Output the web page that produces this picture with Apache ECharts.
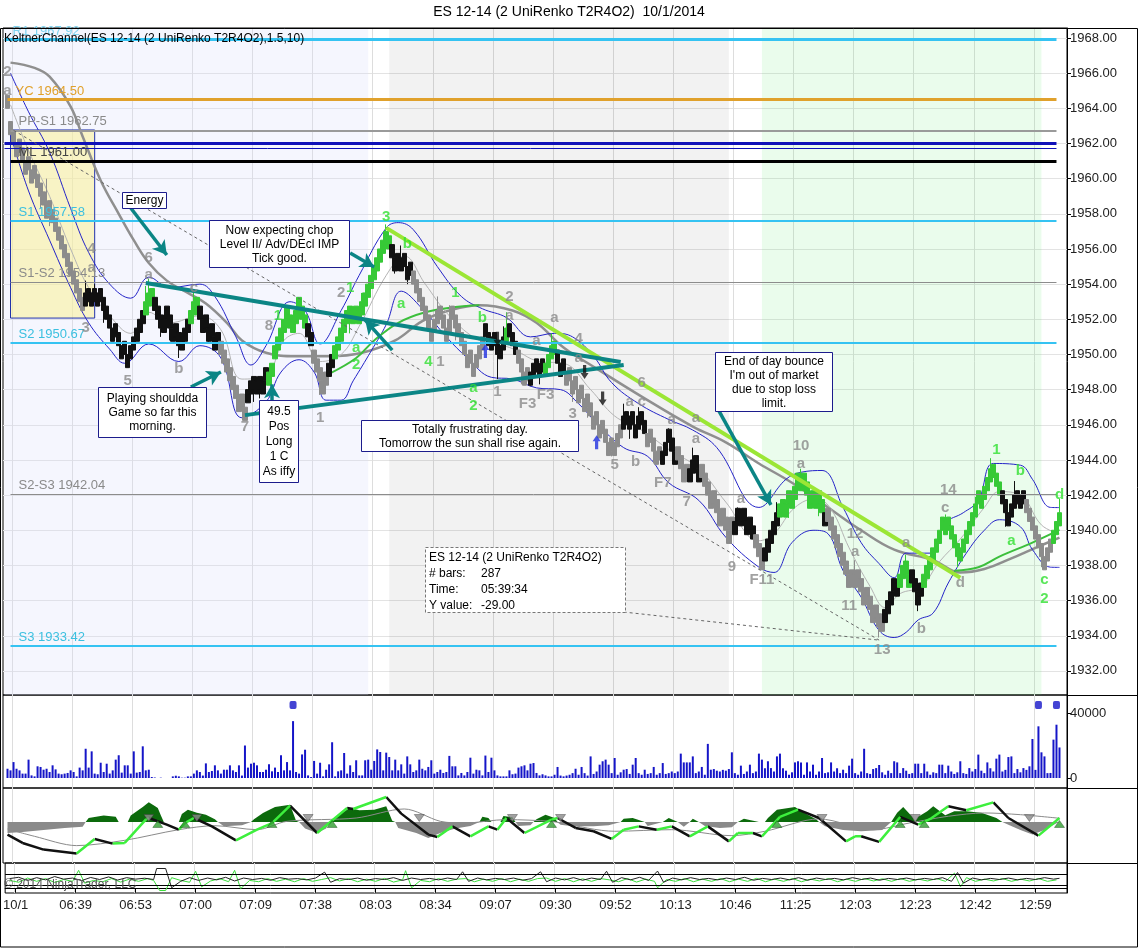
<!DOCTYPE html>
<html>
<head>
<meta charset="utf-8">
<title>ES 12-14 (2 UniRenko T2R4O2) 10/1/2014</title>
<script src="https://cdn.jsdelivr.net/npm/echarts@6.0.0/dist/echarts.min.js"></script>
<style>
  html, body { margin: 0; padding: 0; background: #fff; }
  #chart { width: 1138px; height: 948px; }
</style>
</head>
<body>
<div id="chart"></div>
<script>
// ---------- values ----------
const timeLabels = ['10/1', '06:39', '06:53', '07:00', '07:09', '07:38', '08:03', '08:34', '09:07',
  '09:30', '09:52', '10:13', '10:46', '11:25', '12:03', '12:23', '12:42', '12:59'];

const priceTicks = [1932, 1934, 1936, 1938, 1940, 1942, 1944, 1946, 1948, 1950,
  1952, 1954, 1956, 1958, 1960, 1962, 1964, 1966, 1968];
const volumeTicks = [0, 40000];

// brick closes, 20 bars per x-axis label step
const closes = [
  null, 1964.0, 1962.5, 1962.0, 1962.0, 1961.5, 1961.0, 1961.0, 1960.5, 1960.5, 1960.0, 1959.5, 1959.0, 1958.5, 1958.5, 1958.0, 1957.5, 1957.0, 1956.5, 1956.0,
  1955.5, 1955.0, 1954.5, 1954.0, 1953.5, 1953.0, 1952.5, 1953.5, 1953.0, 1953.5, 1953.0, 1953.5, 1953.0, 1952.5, 1952.0, 1951.5, 1951.5, 1951.0, 1950.5, 1950.5,
  1950.0, 1950.0, 1950.5, 1951.0, 1951.5, 1952.0, 1952.5, 1953.0, 1953.5, 1953.0, 1952.5, 1952.0, 1951.5, 1952.0, 1952.0, 1951.5, 1951.5, 1951.0, 1950.5, 1951.0,
  1951.5, 1952.0, 1952.5, 1953.0, 1952.5, 1952.0, 1952.0, 1951.5, 1951.5, 1951.0, 1951.0, 1950.5, 1950.0, 1949.5, 1949.0, 1948.5, 1948.0, 1947.5, 1947.5, 1947.0,
  1947.0, 1948.0, 1948.5, 1948.0, 1948.5, 1948.0, 1948.5, 1948.5, 1949.0, 1949.5, 1950.5, 1951.0, 1951.5, 1952.0, 1952.0, 1951.5, 1952.0, 1952.5, 1952.5, 1952.0,
  1951.5, 1951.0, 1950.5, 1949.5, 1949.0, 1948.5, 1948.5, 1949.0, 1949.5, 1950.0, 1950.5, 1951.0, 1951.5, 1952.0, 1952.5, 1952.0, 1952.5, 1952.0, 1952.5, 1953.0,
  1953.5, 1954.0, 1954.5, 1955.0, 1955.5, 1956.0, 1956.5, 1957.0, 1956.0, 1955.5, 1955.5, 1955.0, 1955.5, 1955.0, 1955.0, 1954.5, 1954.0, 1953.5, 1953.0, 1952.5,
  1952.0, 1951.5, 1951.5, 1952.0, 1952.5, 1952.0, 1951.5, 1951.5, 1952.0, 1952.0, 1951.5, 1951.0, 1950.5, 1950.0, 1950.0, 1949.5, 1949.5, 1950.0, 1950.5, 1951.0,
  1951.0, 1950.5, 1951.0, 1950.5, 1950.0, 1950.5, 1951.0, 1951.5, 1951.0, 1950.5, 1950.0, 1949.5, 1949.0, 1949.0, 1948.5, 1949.0, 1949.5, 1949.0, 1949.5, 1949.0,
  1949.5, 1950.0, 1950.5, 1950.0, 1949.5, 1949.5, 1949.0, 1949.0, 1948.5, 1948.5, 1948.0, 1948.0, 1947.5, 1947.5, 1947.0, 1946.5, 1946.5, 1946.0, 1946.0, 1945.5,
  1945.0, 1945.0, 1944.5, 1945.0, 1945.5, 1946.0, 1946.5, 1946.0, 1946.5, 1946.0, 1946.0, 1946.5, 1946.0, 1945.5, 1945.5, 1945.0, 1944.5, 1944.5, 1944.0, 1944.5,
  1945.0, 1945.0, 1944.5, 1944.5, 1944.0, 1943.5, 1943.5, 1943.0, 1943.5, 1944.0, 1943.5, 1943.5, 1943.0, 1942.5, 1942.0, 1942.0, 1941.5, 1941.0, 1941.0, 1940.5,
  1940.0, 1940.0, 1940.0, 1940.5, 1940.5, 1941.0, 1940.5, 1940.5, 1940.0, 1939.5, 1939.0, 1938.5, 1938.5, 1939.0, 1939.5, 1940.0, 1940.5, 1941.0, 1941.5, 1941.0,
  1941.5, 1941.5, 1942.0, 1942.5, 1942.5, 1943.0, 1942.5, 1942.0, 1942.0, 1941.5, 1942.0, 1941.5, 1941.0, 1941.0, 1940.5, 1940.0, 1939.5, 1939.0, 1938.5, 1938.0,
  1937.5, 1937.5, 1937.0, 1937.5, 1937.0, 1936.5, 1936.5, 1936.0, 1935.5, 1935.5, 1935.0, 1934.5, 1935.0, 1935.5, 1936.0, 1936.5, 1936.5, 1937.0, 1937.5, 1938.0,
  1937.5, 1937.5, 1937.0, 1936.5, 1936.5, 1937.0, 1937.5, 1938.0, 1938.5, 1939.0, 1939.5, 1940.0, 1940.0, 1940.5, 1940.0, 1939.5, 1939.0, 1938.5, 1939.0, 1939.5,
  1940.0, 1940.5, 1941.0, 1941.5, 1941.5, 1942.0, 1942.5, 1943.0, 1943.5, 1943.0, 1942.5, 1942.0, 1941.5, 1941.0, 1941.0, 1941.5, 1942.0, 1941.5, 1942.0, 1941.5,
  1941.0, 1940.5, 1940.0, 1939.5, 1939.0, 1938.5, 1938.5, 1939.0, 1939.5, 1940.0, 1940.5, 1941.0, null, null
];

// brick colour runs: s = gray, k = black, g = green
const toneRuns = [
  ['s', 20],
  ['s', 7], ['k', 13],
  ['k', 7], ['g', 3], ['k', 10],
  ['k', 2], ['g', 3], ['k', 7], ['s', 8],
  ['s', 1], ['k', 7], ['g', 12],
  ['g', 1], ['k', 2], ['s', 5], ['k', 2], ['g', 10],
  ['g', 9], ['k', 7], ['s', 4],
  ['s', 20],
  ['k', 7], ['g', 1], ['k', 3], ['s', 4], ['k', 5],
  ['g', 4], ['k', 3], ['s', 13],
  ['s', 6], ['k', 8], ['s', 5], ['k', 1],
  ['k', 4], ['s', 4], ['k', 4], ['s', 8],
  ['s', 3], ['k', 7], ['s', 3], ['k', 5], ['g', 2],
  ['g', 13], ['k', 1], ['s', 6],
  ['s', 13], ['k', 5], ['g', 2],
  ['g', 2], ['k', 4], ['g', 14],
  ['g', 12], ['k', 8],
  ['s', 9], ['g', 3], ['s', 2]
];

// [bar, wick extreme]
const wicks = [
  [1, 1964.6], [2, 1963.0], [12, 1958.3], [14, 1960.0], [15, 1957.3], [27, 1954.2], [30, 1954.0],
  [33, 1951.8], [36, 1950.8], [41, 1949.3], [47, 1953.9], [48, 1954.3], [52, 1951.0], [55, 1950.8],
  [58, 1949.8], [63, 1953.7], [68, 1950.7], [70, 1950.3], [80, 1946.7], [83, 1947.3], [85, 1947.5],
  [94, 1952.7], [98, 1953.2], [105, 1947.7], [115, 1951.2], [119, 1953.5], [127, 1957.4], [130, 1954.6],
  [132, 1956.2], [134, 1954.0], [144, 1953.3], [148, 1952.8], [150, 1950.8], [156, 1948.9], [164, 1948.6],
  [166, 1951.6], [167, 1952.4], [172, 1948.3], [175, 1948.2], [178, 1948.3], [182, 1951.2], [189, 1947.3],
  [194, 1946.4], [202, 1944.2], [206, 1947.2], [208, 1945.2], [211, 1947.0], [216, 1943.8], [221, 1945.8],
  [223, 1943.9], [229, 1944.7], [231, 1942.9], [241, 1939.4], [244, 1941.3], [247, 1939.9], [252, 1938.1],
  [257, 1941.6], [261, 1940.7], [265, 1943.5], [268, 1942.7], [271, 1940.8], [283, 1938.3], [286, 1935.8],
  [291, 1933.9], [300, 1938.6], [304, 1935.4], [313, 1940.9], [317, 1937.9], [323, 1941.9], [328, 1944.1],
  [333, 1940.2], [336, 1942.8], [345, 1937.9], [351, 1941.8]
];

const volumes = [
  0, 5700, 4700, 9800, 5700, 4700, 2700, 2700, 11300, 1600, 1000, 7200, 6800, 5100, 5700, 3700, 7800, 5300, 2700, 2300,
  2700, 3100, 4700, 3700, 1000, 6400, 4700, 18000, 6400, 16400, 2700, 2300, 9400, 3700, 8800, 2700, 4700, 11300, 14000, 3300,
  7800, 7800, 2700, 16400, 3300, 3700, 19500, 4700, 5100, 600, 300, 0, 200, 0, 0, 0, 1000, 1400, 1000, 200,
  200, 1000, 1000, 2700, 4700, 3700, 1500, 9000, 3700, 4300, 7800, 4700, 2700, 5100, 5100, 7800, 4700, 3700, 7800, 1500,
  20000, 6400, 8800, 9400, 7800, 3700, 3700, 5100, 8400, 4100, 6400, 3700, 14000, 4700, 9800, 4700, 35000, 3700, 2700, 14500,
  17400, 1600, 600, 10500, 2700, 9400, 1000, 5100, 8400, 22000, 1000, 4100, 4700, 15400, 2700, 7800, 3700, 10900, 1600, 1600,
  10900, 11300, 5100, 10500, 17600, 16000, 4700, 15600, 12900, 4700, 11300, 4700, 8400, 2700, 13300, 8400, 3700, 4700, 11300, 5700,
  4700, 6800, 10900, 2700, 3700, 5100, 3100, 3700, 13600, 7200, 7200, 1600, 3100, 1600, 3700, 12500, 2700, 5100, 4700, 1600,
  13800, 3700, 12500, 4700, 1600, 1000, 1000, 1000, 4700, 2300, 2700, 6400, 7200, 7800, 4700, 8800, 9200, 3100, 1600, 2300,
  1600, 1000, 1000, 2000, 6800, 1500, 1000, 1500, 2000, 3000, 5700, 2000, 6800, 3000, 1500, 13300, 2500, 4000, 8200, 10300,
  11300, 8200, 3000, 12300, 2000, 3500, 5100, 5500, 2500, 8200, 12300, 3000, 2000, 5100, 2500, 3000, 6800, 2000, 3000, 9200,
  2500, 3000, 4000, 3000, 4000, 15000, 9600, 9600, 9600, 13300, 3000, 4000, 6800, 2000, 21000, 5100, 5500, 4500, 4000, 5000,
  4500, 5500, 15800, 3000, 2000, 7600, 2500, 4000, 8200, 3000, 4000, 15000, 11300, 6000, 10300, 6100, 4000, 13300, 15000, 6000,
  4500, 2000, 3500, 9600, 10300, 9600, 2000, 9600, 4000, 8200, 2000, 4000, 12300, 3000, 3500, 9600, 4000, 6000, 3000, 5100,
  3000, 7600, 11900, 3000, 2000, 4000, 18000, 3000, 2500, 5500, 6100, 8000, 3500, 2000, 4500, 3000, 10300, 9600, 3000, 6100,
  4500, 2500, 3000, 8800, 8800, 3000, 8800, 4000, 2000, 3500, 3000, 8200, 8200, 3000, 7600, 4000, 2500, 3500, 10300, 3000,
  2500, 6100, 4000, 5500, 14400, 4500, 3000, 9600, 6000, 4000, 11900, 14400, 4000, 5000, 12900, 13300, 3000, 5500, 3500, 6100,
  5000, 7200, 24000, 5000, 31800, 15800, 13300, 3000, 3100, 23600, 32800, 18785, null, null
];
const volumeDotBars = [96, 344, 350];
const volumeDotLevel = 45000;

// Keltner channel and averages, [bar, price]
const upperBand = [[2, 1966], [8, 1963.8], [15, 1961.5], [22, 1958.3], [28, 1955.8], [35, 1954.0], [42, 1953.2],
  [48, 1954.4], [55, 1953.8], [65, 1954.0], [70, 1953.3], [77, 1951.0], [82, 1949.4], [87, 1950.5], [95, 1953.0],
  [100, 1952.5], [105, 1950.6], [112, 1952.5], [118, 1954.5], [127, 1957.2], [131, 1957.5], [136, 1957.1], [144, 1955],
  [152, 1953.3], [159, 1952.6], [167, 1952.1], [175, 1951], [183, 1951.2], [189, 1951], [196, 1949.9], [202, 1948.4],
  [211, 1947.2], [221, 1946.3], [229, 1945.7], [237, 1944.7], [251, 1941.3], [260, 1942.9], [265, 1943.3], [272, 1943.4],
  [279, 1941.3], [285, 1939.3], [291, 1938.1], [296, 1937.3], [300, 1938.7], [308, 1938.7], [313, 1940.4], [319, 1941],
  [324, 1941.7], [329, 1943.8], [338, 1943.7], [342, 1942.9], [348, 1941.3], [351, 1941.29]];
const lowerBand = [[2, 1962.5], [8, 1959.3], [15, 1956.5], [22, 1953.8], [28, 1951.8], [35, 1950.3], [40, 1949.5],
  [48, 1950.6], [58, 1949.6], [65, 1950.5], [72, 1949.8], [79, 1946.4], [87, 1947.3], [92, 1949.0], [98, 1949.7],
  [103, 1949.0], [107, 1947.4], [112, 1947.4], [116, 1948.5], [122, 1950.2], [127, 1951.7], [132, 1953.6], [139, 1952.6],
  [147, 1951.0], [154, 1949.8], [162, 1948.7], [169, 1948.6], [177, 1948.1], [185, 1948.0], [191, 1947.2], [197, 1946.1],
  [206, 1944.7], [214, 1944.2], [221, 1942.7], [231, 1941.7], [240, 1939.6], [251, 1937.9], [256, 1937.6], [262, 1939.3],
  [269, 1940.0], [274, 1939.8], [279, 1937.7], [285, 1936.2], [291, 1934.3], [296, 1933.9], [300, 1934.2], [304, 1934.9],
  [309, 1935.3], [314, 1937.0], [320, 1938.7], [326, 1940], [331, 1940.6], [338, 1940.2], [342, 1938.9], [348, 1937.9],
  [351, 1937.89]];
const midBand = [[2, 1964.2], [8, 1961.6], [15, 1959], [22, 1956], [28, 1953.8], [35, 1952.2], [42, 1951.2], [48, 1952.4],
  [55, 1951.8], [65, 1952.2], [72, 1951.4], [79, 1948.6], [87, 1948.8], [93, 1950.8], [98, 1951.2], [105, 1949.6],
  [112, 1950], [118, 1951.6], [127, 1954.5], [133, 1955.6], [140, 1954], [148, 1952.2], [158, 1950.8], [168, 1950.4],
  [178, 1949.6], [186, 1949.5], [195, 1948], [203, 1946.5], [211, 1945.8], [221, 1944.6], [231, 1943.5], [240, 1941.6],
  [251, 1939.4], [256, 1939.8], [263, 1941.3], [270, 1941.8], [275, 1941.2], [281, 1939], [288, 1936.8], [293, 1935.6],
  [298, 1936.4], [305, 1936.8], [311, 1938.2], [318, 1939.5], [326, 1941.3], [331, 1942.2], [338, 1942.0], [345, 1940.3],
  [351, 1939.8]];
const slowAverage = [[2, 1966.6], [10, 1966.3], [15, 1965.8], [22, 1964.1], [26, 1962.4], [32, 1959.9], [38, 1958],
  [43, 1956.5], [48, 1955.2], [54, 1954.2], [61, 1953.5], [67, 1952.9], [74, 1951.8], [79, 1950.8], [87, 1950.1],
  [97, 1949.9], [108, 1949.9], [119, 1950.1], [130, 1950.8], [139, 1951.9], [148, 1952.5], [158, 1952.8], [169, 1952.5],
  [177, 1951.8], [186, 1950.4], [196, 1949.3], [212, 1947.6], [229, 1945.9], [240, 1945], [251, 1943.8], [262, 1942.7],
  [274, 1941.3], [285, 1940], [296, 1938.9], [309, 1938.3], [318, 1937.6], [326, 1937.8], [335, 1938.4], [343, 1939.0],
  [351, 1939.58]];
const greenAverage = [[108, 1948.9], [117, 1949.8], [123, 1950.8], [131, 1951.8], [140, 1952.4], [150, 1952.7], [158, 1952.8],
  null, [316, 1937.7], [324, 1937.9], [331, 1938.5], [342, 1939.3], [351, 1940.02]];

// pivot levels
const levelNames = ['R1 1967.92', 'YC 1964.50', 'PP-S1 1962.75', '', '', 'ML 1961.00', 'S1 1957.58',
  'S1-S2 1954.13', 'S2 1950.67', 'S2-S3 1942.04', 'S3 1933.42'];
const levelValues = [1967.92, 1964.5, 1962.75, 1962.03, 1961.75, 1961.0, 1957.58, 1954.13, 1950.67, 1942.04, 1933.42];

// drawn objects, [[bar, price], [bar, price]]
const trendLines = [[[127, 1957.2], [318, 1937.3]]];
const tealLines = [[[47, 1954.06], [205, 1949.57]], [[80, 1946.55], [206, 1949.4]]];
const tealArrows = [[[42, 1958.33], [54, 1955.66]], [[115, 1955.77], [123, 1954.97]], [[129, 1950.25], [120, 1951.96]],
  [[62, 1948.15], [72, 1949.0]], [[237, 1947.0], [255, 1941.44]], [[89, 1947.4], [89, 1948.3]]];
const rulerLines = [[[3, 1962.75], [291, 1933.75]], [[206, 1935.35], [291, 1933.75]]];

// wave labels, [bar, price, text]
const grayMarks = [[1, 1966.1, '2'], [1, 1965.0, 'a'], [29, 1956.0, '4'], [29, 1954.9, 'a'], [27, 1951.5, '3'],
  [48, 1955.5, '6'], [48, 1954.5, 'a'], [63, 1953.8, 'c'], [41, 1948.5, '5'], [58, 1949.2, 'b'], [80, 1945.9, '7'],
  [88, 1951.6, '8'], [105, 1946.4, '1'], [112, 1953.5, '2'], [168, 1953.3, '2'], [168, 1952.2, 'a'], [183, 1952.1, 'a'],
  [177, 1950.8, 'a'], [191, 1950.9, '4'], [191, 1949.8, 'a'], [145, 1949.6, '1'], [164, 1947.9, '1'], [174, 1947.2, 'F3'],
  [180, 1947.7, 'F3'], [189, 1946.6, '3'], [212, 1948.4, '6'], [208, 1947.3, 'a'], [212, 1947.3, 'c'], [222, 1946.3, 'a'],
  [230, 1946.4, 'a'], [230, 1945.2, 'a'], [203, 1943.7, '5'], [210, 1943.9, 'b'], [219, 1942.7, 'F7'], [227, 1941.6, '7'],
  [242, 1937.9, '9'], [245, 1941.8, 'a'], [252, 1937.2, 'F11'], [265, 1944.8, '10'], [265, 1943.8, 'a'],
  [283, 1939.8, '12'], [283, 1938.8, 'a'], [281, 1935.7, '11'], [292, 1933.2, '13'], [305, 1934.4, 'b'],
  [300, 1939.3, 'a'], [313, 1941.3, 'c'], [314, 1942.3, '14'], [318, 1937.0, 'd']];
const greenMarks = [[127, 1957.8, '3'], [134, 1956.3, 'b'], [132, 1952.9, 'a'], [150, 1953.5, '1'], [159, 1952.1, 'b'],
  [141, 1949.6, '4'], [156, 1948.1, 'a'], [156, 1947.1, '2'], [91, 1952.2, '1'], [115, 1953.8, '1'], [117, 1950.4, 'a'],
  [117, 1949.4, '2'], [330, 1944.6, '1'], [338, 1943.4, 'b'], [335, 1939.4, 'a'], [346, 1937.2, 'c'], [346, 1936.1, '2'],
  [351, 1942.0, 'd']];
const blueUpArrows = [[160, 1950.2], [197, 1945.0]];
const blackDownArrows = [[164, 1950.9], [193, 1949.0], [199, 1947.5]];

// oscillator panel
const oscLine = [[1, -0.95], [6, -1.58], [13, -2.08], [24, -2.38], [30, -1.28], [36, -1.63], [40, -1.58], [47, 0.18],
  [48, 0.3], [54, -0.2], [58, -0.58], [60, -0.08], [63, 0.3], [69, -0.33], [77, -1.38], [84, -0.58], [89, -0.08],
  [95, 1.23], [104, -0.83], [114, 1.05], [116, 0.98], [127, 1.88], [132, 0.63], [141, -0.95], [144, -1.13], [149, -0.33],
  [155, -1.08], [161, -0.33], [164, -0.58], [167, 0.3], [173, -0.83], [182, 0.18], [184, 0.3], [190, -0.45], [196, -0.7],
  [202, -1.28], [206, -0.58], [211, -0.33], [217, -0.58], [222, -0.33], [228, -1.08], [234, -0.33], [241, -1.46],
  [244, -0.83], [249, -0.83], [252, -1.08], [258, 0.38], [264, 0.93], [271, 0.3], [280, -1.46], [283, -1.08],
  [285, -1.08], [291, -1.5], [298, 0.38], [304, -0.2], [308, 0.23], [314, 1.18], [320, 0.88], [329, 1.48], [334, 0.3],
  [344, -1.03], [351, 0.305]];
const oscSignal = [[1, -0.53], [10, -1.08], [24, -1.78], [40, -1.38], [58, -0.58], [70, -0.28], [84, -0.58], [94, 0.05],
  [117, 0.3], [133, 0.98], [145, 0.05], [153, -0.08], [167, 0.18], [182, 0.05], [185, -0.08], [203, -0.7], [222, -0.58],
  [242, -1.03], [253, -0.7], [271, 0.23], [289, -0.58], [301, -0.08], [314, 0.43], [326, 0.68], [338, 0.55], [351, 0.28]];
const oscPositive = [[27, 0], [28, 0.3], [33, 0.48], [37, 0.4], [38, 0], [41, 0], [42, 0.48], [46, 1.13], [48, 1.48],
  [50, 1.2], [51, 1.05], [52, 0.5], [53, 0], [58, 0], [59, 0.6], [61, 0.93], [64, 0.7], [67, 0.55], [70, 0.2], [71, 0],
  [82, 0], [83, 0.2], [86, 0.68], [90, 1.13], [95, 1.3], [97, 0.1], [98, 0], [108, 0], [109, 0.1], [112, 0.68],
  [115, 1.05], [118, 0.88], [123, 0.93], [127, 1.18], [129, 0.1], [130, 0], [158, 0], [159, 0.4], [161, 0.3], [162, 0],
  [165, 0], [166, 0.45], [169, 0.35], [170, 0], [176, 0], [177, 0.2], [180, 0.55], [183, 0.3], [184, 0], [205, 0],
  [206, 0.25], [209, 0.3], [213, 0], [219, 0], [221, 0.3], [224, 0], [228, 0], [229, 0.25], [231, 0], [244, 0],
  [246, 0.25], [251, 0], [253, 0], [254, 0.3], [257, 0.93], [263, 1.13], [266, 0.7], [270, 0.2], [271, 0], [295, 0],
  [297, 0.7], [299, 1.13], [302, 0.4], [303, 0], [304, 0.4], [307, 0.8], [309, 1.18], [313, 0.5], [316, 0.8], [320, 0.8],
  [325, 0.7], [330, 0.3], [332, 0]];
const oscNegative = [[1, -0.83], [6, -0.75], [13, -0.6], [20, -0.45], [26, -0.35], [27, 0], [71, 0], [73, -0.33],
  [79, -0.25], [82, 0], [98, 0], [100, -0.5], [104, -0.83], [107, -0.5], [108, 0], [130, 0], [131, -0.45], [137, -0.83],
  [141, -1.2], [145, -0.83], [150, -0.5], [155, -0.3], [158, 0], [170, 0], [171, -0.3], [175, -0.25], [176, 0],
  [184, 0], [185, -0.2], [189, -0.33], [196, -0.33], [201, -0.25], [205, 0], [213, 0], [214, -0.3], [219, 0], [224, 0],
  [226, -0.35], [228, 0], [231, 0], [233, -0.3], [238, -0.45], [242, -0.4], [244, 0], [271, 0], [273, -0.33],
  [279, -0.6], [285, -0.7], [292, -0.6], [295, 0], [332, 0], [334, -0.2], [338, -0.6], [342, -0.95], [346, -0.6],
  [350, -0.1], [351, 0]];
const oscDownMarks = [48, 64, 101, 138, 169, 185, 272, 303, 341];
const oscUpMarks = [51, 60, 89, 109, 182, 257, 298, 306, 351];

// lowest panel
const lowBlack = [[1, 55], [4, 62], [7, 45], [10, 60], [13, 48], [16, 66], [19, 52], [22, 58], [25, 44], [28, 61], [31, 50],
  [34, 64], [37, 47], [40, 60], [43, 52], [46, 57], [49, 50], [50, 110], [53, 110], [55, 5], [58, 40], [61, 60], [64, 45],
  [67, 58], [70, 48], [73, 62], [76, 42], [79, 58], [82, 50], [85, 56], [88, 46], [91, 60], [94, 52], [97, 55], [100, 48],
  [103, 58], [106, 90], [108, 35], [111, 55], [114, 50], [117, 58], [120, 46], [123, 55], [126, 50], [129, 60], [132, 45],
  [135, 58], [138, 50], [141, 56], [144, 48], [147, 58], [150, 50], [152, 92], [154, 40], [157, 58], [160, 48], [163, 56],
  [166, 50], [169, 58], [172, 46], [175, 55], [178, 92], [180, 38], [183, 58], [186, 48], [189, 60], [192, 46], [195, 58],
  [198, 50], [200, 95], [202, 35], [205, 60], [208, 48], [211, 62], [214, 45], [217, 96], [219, 35], [222, 58], [225, 48],
  [228, 60], [231, 50], [234, 56], [237, 48], [240, 58], [243, 50], [246, 62], [249, 46], [252, 56], [255, 50], [258, 58],
  [261, 48], [264, 60], [267, 46], [270, 58], [273, 50], [276, 56], [279, 48], [282, 60], [285, 50], [288, 58], [291, 46],
  [294, 56], [297, 50], [300, 58], [303, 48], [306, 56], [309, 50], [312, 60], [315, 40], [317, 88], [319, 30], [322, 58],
  [325, 48], [328, 56], [331, 50], [334, 58], [337, 48], [340, 56], [343, 50], [346, 60], [349, 52], [351, 56.56]];
const lowGreen = [[1, 45], [4, 35], [7, 58], [10, 40], [13, 55], [16, 34], [19, 50], [22, 40], [24, 100], [26, 30], [29, 45],
  [32, 38], [35, 55], [38, 36], [41, 52], [44, 40], [47, 55], [49, 45], [51, -10], [53, -10], [55, 60], [58, 45], [61, 35],
  [63, 95], [65, 10], [68, 42], [71, 55], [74, 38], [76, 100], [78, 0], [81, 45], [84, 38], [87, 55], [90, 40], [93, 52],
  [96, 38], [99, 55], [102, 40], [105, 50], [108, 60], [111, 42], [114, 55], [117, 38], [120, 52], [123, 40], [126, 56],
  [129, 36], [132, 48], [133, 98], [135, 5], [138, 45], [141, 38], [144, 55], [147, 40], [150, 52], [153, 55], [156, 38],
  [159, 52], [162, 40], [165, 55], [168, 38], [171, 52], [174, 40], [177, 55], [180, 58], [183, 40], [186, 55], [189, 38],
  [192, 54], [195, 40], [198, 55], [201, 48], [204, 38], [207, 55], [210, 36], [213, 52], [216, 40], [217, 5], [220, 50],
  [223, 40], [226, 55], [229, 38], [232, 52], [235, 40], [238, 55], [241, 38], [244, 52], [247, 40], [250, 56], [253, 38],
  [256, 52], [259, 40], [262, 55], [265, 38], [268, 52], [271, 42], [274, 55], [277, 38], [280, 52], [283, 40], [286, 55],
  [289, 42], [292, 54], [295, 40], [298, 55], [301, 40], [304, 52], [307, 42], [310, 55], [313, 40], [316, 85], [318, 10],
  [320, 60], [323, 40], [326, 52], [329, 42], [332, 55], [335, 40], [338, 52], [341, 42], [344, 55], [347, 40], [350, 48]];
const lowLevels = [20, 80];

// ---------- build ----------
const FONT = "'Liberation Sans', Arial, Helvetica, sans-serif";
const TONE = { s: '#8c8c8c', k: '#111111', g: '#36c936' };
const BODY = 0.75;

const tones = toneRuns.map(r => r[0].repeat(r[1])).join('');
const cats = closes.map((_, i) => String(i));
const isLabelBar = i => i >= 3 && (i - 3) % 20 === 0 && (i - 3) / 20 < timeLabels.length;

const wickAt = new Map(wicks.map(w => [w[0], w[1]]));
const candles = [];
let prevClose = null, lastDir = -1;
closes.forEach((c, i) => {
  if (c == null) { candles.push(['-', '-', '-', '-']); return; }
  let dir = prevClose == null ? -1 : Math.sign(c - prevClose);
  if (dir === 0) dir = -lastDir;
  lastDir = dir;
  const o = c - dir * BODY;
  let lo = Math.min(o, c), hi = Math.max(o, c);
  const w = wickAt.get(i);
  if (w != null) { if (w > hi) hi = w; else if (w < lo) lo = w; }
  const col = TONE[tones[i]];
  candles.push({ value: [o, c, lo, hi], itemStyle: { color: col, color0: col, borderColor: col, borderColor0: col } });
  prevClose = c;
});

// zigzag split into rising (lime) and falling (black) legs
const oscUp = [], oscDown = [];
for (let k = 1; k < oscLine.length; k++) {
  const a = oscLine[k - 1], b = oscLine[k];
  (b[1] >= a[1] ? oscUp : oscDown).push(a, b, null);
}

const levelStyle = [
  { c: '#35c3f2', w: 3, t: '#7fd3ef', from: 0 },
  { c: '#e0a12c', w: 3, t: '#e0a12c', from: 1 },
  { c: '#9a9a9a', w: 2, t: '#8a8a8a', from: 2 },
  { c: '#1010b8', w: 3, t: '#000', from: 0 },
  { c: '#1010b8', w: 1, t: '#000', from: 0 },
  { c: '#000000', w: 3, t: '#444', from: 2 },
  { c: '#35c3f2', w: 2, t: '#3cc0e0', from: 2 },
  { c: '#8c8c8c', w: 1, t: '#8a8a8a', from: 2 },
  { c: '#35c3f2', w: 2, t: '#3cc0e0', from: 2 },
  { c: '#8c8c8c', w: 1, t: '#8a8a8a', from: 2 },
  { c: '#35c3f2', w: 2, t: '#3cc0e0', from: 2 }
];

const pairLine = (p, style, endSymbol) => [
  { coord: p[0], symbol: 'none', lineStyle: style },
  { coord: p[1], symbol: endSymbol || 'none', symbolSize: endSymbol ? [12, 14] : 0 }
];

const badge = (v, text, bg, fg) => ({
  yAxis: v,
  lineStyle: { width: 0, opacity: 0 },
  label: { show: true, position: 'end', distance: 3, formatter: text, backgroundColor: bg, color: fg,
    fontSize: 13, fontFamily: FONT, padding: [2, 4, 1, 4], borderColor: '#333', borderWidth: 0.5 }
});

const badgeSeries = (xi, yi, items, z) => ({
  type: 'line', xAxisIndex: xi, yAxisIndex: yi, data: [], silent: true, z: z || 8,
  markLine: { silent: true, symbol: 'none', animation: false, data: items }
});

// panels share their border lines
const gridBase = { left: 3, right: 71, show: true, borderColor: '#000', borderWidth: 1, backgroundColor: 'transparent' };
const grids = [
  Object.assign({ top: 28, height: 667 }, gridBase),
  Object.assign({ top: 695, height: 93 }, gridBase),
  Object.assign({ top: 788, height: 75 }, gridBase),
  Object.assign({ top: 863, height: 30 }, gridBase)
];

const xAxes = grids.map((g, k) => ({
  type: 'category', gridIndex: k, data: cats, boundaryGap: true,
  axisLine: { show: k === 3, lineStyle: { color: '#000' } },
  axisTick: { show: k === 3, interval: i => isLabelBar(i), length: 4, alignWithLabel: true, lineStyle: { color: '#000' } },
  axisLabel: { show: k === 3, interval: i => isLabelBar(i), formatter: (v, i) => timeLabels[(i - 3) / 20],
    color: '#222', fontSize: 13, margin: 6, fontFamily: FONT },
  splitLine: { show: true, interval: i => isLabelBar(i), lineStyle: { color: '#dddddd', width: 1 } }
}));

const yAxes = [
  { type: 'value', gridIndex: 0, position: 'right', min: 1930.63, max: 1968.57,
    axisLine: { show: true, lineStyle: { color: '#000' } },
    axisTick: { show: true, customValues: priceTicks, length: 4, lineStyle: { color: '#000' } },
    axisLabel: { customValues: priceTicks, formatter: v => v.toFixed(2), color: '#222', fontSize: 13, margin: 3, fontFamily: FONT },
    splitLine: { show: true, lineStyle: { color: '#e3e3e3' } } },
  { type: 'value', gridIndex: 1, position: 'right', min: -6154, max: 51077,
    axisLine: { show: true, lineStyle: { color: '#000' } },
    axisTick: { show: true, customValues: volumeTicks, length: 4, lineStyle: { color: '#000' } },
    axisLabel: { customValues: volumeTicks, formatter: v => String(v), color: '#222', fontSize: 13, margin: 3, fontFamily: FONT },
    splitLine: { show: false } },
  { type: 'value', gridIndex: 2, position: 'right', min: -3.09, max: 2.56,
    axisLine: { show: true, lineStyle: { color: '#000' } }, axisTick: { show: false }, axisLabel: { show: false },
    splitLine: { show: false } },
  { type: 'value', gridIndex: 3, position: 'right', min: -23.6, max: 140,
    axisLine: { show: true, lineStyle: { color: '#000' } }, axisTick: { show: false }, axisLabel: { show: false },
    splitLine: { show: false } }
];

const lineSeries = (data, color, width, z, smooth) => ({
  type: 'line', xAxisIndex: 0, yAxisIndex: 0, data, symbol: 'none', silent: true, z: z || 3,
  smooth: smooth == null ? 0.4 : smooth, connectNulls: false,
  lineStyle: { color, width }
});

const markText = (data, color) => ({
  type: 'scatter', xAxisIndex: 0, yAxisIndex: 0, silent: true, z: 7, symbolSize: 1,
  itemStyle: { color: 'transparent' },
  data: data.map(m => ({ value: [m[0], m[1]], name: m[2] })),
  label: { show: true, position: 'inside', formatter: '{b}', color, fontWeight: 'bold', fontSize: 15, fontFamily: FONT }
});

const series = [
  // background session shading
  { type: 'line', xAxisIndex: 0, yAxisIndex: 0, data: [], silent: true, z: 1,
    markArea: { silent: true, data: [
      [{ xAxis: 0, itemStyle: { color: 'rgba(215,220,250,0.26)' } }, { xAxis: 121 }],
      [{ xAxis: 128, itemStyle: { color: 'rgba(0,0,0,0.05)' } }, { xAxis: 241 }],
      [{ xAxis: 252, itemStyle: { color: 'rgba(90,235,110,0.13)' } }, { xAxis: 345 }]
    ] } },
  // pivot levels
  { type: 'line', xAxisIndex: 0, yAxisIndex: 0, data: [], silent: true, z: 2,
    markLine: { silent: true, symbol: 'none', animation: false,
      data: levelValues.map((v, k) => [
        { coord: [levelStyle[k].from, v], lineStyle: { color: levelStyle[k].c, width: levelStyle[k].w, type: 'solid' },
          label: { show: levelNames[k] !== '', position: 'insideStartTop', formatter: levelNames[k], distance: [8, 2],
            color: levelStyle[k].t, fontSize: 13, fontFamily: FONT } },
        { coord: [350, v] }
      ]) } },
  lineSeries(slowAverage, '#8f8f8f', 2.5, 3),
  lineSeries(midBand, '#b4b4b4', 1, 3),
  lineSeries(upperBand, '#2424c8', 1, 3),
  lineSeries(lowerBand, '#2424c8', 1, 3),
  lineSeries(greenAverage, '#3cbf3c', 2, 3),
  {
    type: 'candlestick', xAxisIndex: 0, yAxisIndex: 0, data: candles, barWidth: 5, z: 4, silent: true,
    itemStyle: { borderWidth: 1 }
  },
  // yellow selection box
  { type: 'line', xAxisIndex: 0, yAxisIndex: 0, data: [], silent: true, z: 5,
    markArea: { silent: true, data: [[
      { xAxis: 2, yAxis: 1962.77, itemStyle: { color: 'rgba(250,240,150,0.55)', borderColor: '#2233aa', borderWidth: 1 } },
      { xAxis: 30, yAxis: 1952.07 }]] } },
  // drawn lines and arrows
  { type: 'line', xAxisIndex: 0, yAxisIndex: 0, data: [], silent: true, z: 6,
    markLine: { silent: true, animation: false, label: { show: false },
      data: [].concat(
        rulerLines.map(p => pairLine(p, { color: '#666', width: 1, type: [3, 3] })),
        trendLines.map(p => pairLine(p, { color: '#9be635', width: 4, type: 'solid' })),
        tealLines.map(p => pairLine(p, { color: '#0b8585', width: 4, type: 'solid' })),
        tealArrows.map(p => pairLine(p, { color: '#0b8585', width: 3.5, type: 'solid' }, 'arrow'))
      ),
      itemStyle: { color: '#0b8585' } } },
  { type: 'scatter', xAxisIndex: 0, yAxisIndex: 0, data: blueUpArrows, silent: true, z: 6,
    symbol: 'path://M5,0 L10,6 L7,6 L7,14 L3,14 L3,6 L0,6 Z', symbolSize: [8, 14], itemStyle: { color: '#1f2fe0' } },
  { type: 'scatter', xAxisIndex: 0, yAxisIndex: 0, data: blackDownArrows, silent: true, z: 6, symbolRotate: 180,
    symbol: 'path://M5,0 L10,6 L7,6 L7,14 L3,14 L3,6 L0,6 Z', symbolSize: [8, 14], itemStyle: { color: '#111' } },
  markText(grayMarks, '#8a8a8a'),
  markText(greenMarks, '#2fe02f'),
  badgeSeries(0, 0, [
    badge(1941.29, '1941.29', '#1010e0', '#fff'),
    badge(1940.02, '1940.02', '#3ccc3c', '#000')
  ], 8),
  badgeSeries(0, 0, [
    badge(1941.0, '1941.00', '#000', '#fff'),
    badge(1939.58, '1939.58', '#a8a8a8', '#000'),
    badge(1937.89, '1937.89', '#1010e0', '#fff')
  ], 9),

  // volume
  { type: 'bar', xAxisIndex: 1, yAxisIndex: 1, data: volumes, barWidth: 2, silent: true,
    itemStyle: { color: '#1515c8' } },
  { type: 'scatter', xAxisIndex: 1, yAxisIndex: 1, silent: true, symbol: 'roundRect', symbolSize: [7, 8],
    data: volumeDotBars.map(i => [i, volumeDotLevel]), itemStyle: { color: '#1515c8' } },
  badgeSeries(1, 1, [badge(18785, '18785', '#1515d8', '#fff')]),

  // oscillator
  { type: 'line', xAxisIndex: 2, yAxisIndex: 2, data: oscPositive, symbol: 'none', silent: true, z: 2,
    lineStyle: { width: 0 }, areaStyle: { color: '#0c6a0c', opacity: 1 } },
  { type: 'line', xAxisIndex: 2, yAxisIndex: 2, data: oscNegative, symbol: 'none', silent: true, z: 2,
    lineStyle: { width: 0 }, areaStyle: { color: '#8a8a8a', opacity: 1 } },
  { type: 'line', xAxisIndex: 2, yAxisIndex: 2, data: oscSignal, symbol: 'none', silent: true, z: 3, smooth: 0.3,
    lineStyle: { color: '#8a8a8a', width: 1 } },
  { type: 'line', xAxisIndex: 2, yAxisIndex: 2, data: oscDown, symbol: 'none', silent: true, z: 4, connectNulls: false,
    lineStyle: { color: '#111', width: 2.5 } },
  { type: 'line', xAxisIndex: 2, yAxisIndex: 2, data: oscUp, symbol: 'none', silent: true, z: 4, connectNulls: false,
    lineStyle: { color: '#3def3d', width: 2.5 } },
  { type: 'scatter', xAxisIndex: 2, yAxisIndex: 2, silent: true, z: 5, symbol: 'triangle', symbolRotate: 180,
    symbolSize: [10, 7], data: oscDownMarks.map(i => [i, 0.3]),
    itemStyle: { color: '#8a8a8a', borderColor: '#333', borderWidth: 0.5 } },
  { type: 'scatter', xAxisIndex: 2, yAxisIndex: 2, silent: true, z: 5, symbol: 'triangle',
    symbolSize: [10, 7], data: oscUpMarks.map(i => [i, -0.15]),
    itemStyle: { color: '#2f9f2f', borderColor: '#134413', borderWidth: 0.5 } },
  badgeSeries(2, 2, [badge(0.22, '0.2833', '#a8a8a8', '#000')], 8),
  badgeSeries(2, 2, [badge(0.305, '0.305', '#22ff22', '#000')], 9),

  // lowest panel
  { type: 'line', xAxisIndex: 3, yAxisIndex: 3, data: [], silent: true, z: 2,
    markLine: { silent: true, symbol: 'none', animation: false, label: { show: false },
      data: lowLevels.map(v => ({ yAxis: v, lineStyle: { color: '#000', width: 1, type: 'solid' } })) } },
  { type: 'line', xAxisIndex: 3, yAxisIndex: 3, data: lowGreen, symbol: 'none', silent: true, z: 3,
    lineStyle: { color: '#3cdc3c', width: 1 } },
  { type: 'line', xAxisIndex: 3, yAxisIndex: 3, data: lowBlack, symbol: 'none', silent: true, z: 4,
    lineStyle: { color: '#222', width: 1 } },
  badgeSeries(3, 3, [badge(56.56, '56.56', '#000', '#fff')], 9)
];

// text boxes drawn above every series
const TOP_Z = 100;
const noteBox = (x, y, w, h, text, lineHeight) => ({
  type: 'group', x, y, z: TOP_Z, silent: true,
  children: [
    { type: 'rect', z: TOP_Z, shape: { x: 0.5, y: 0.5, width: w, height: h },
      style: { fill: '#fff', stroke: '#1c1c8c', lineWidth: 1 } },
    { type: 'text', z: TOP_Z + 1, style: { text, x: w / 2 + 0.5, y: h / 2 + 1, align: 'center', verticalAlign: 'middle',
      fontSize: 12, lineHeight: lineHeight || 14, fontFamily: FONT, fill: '#000' } }
  ]
});

const graphic = [
  { type: 'text', left: 'center', top: 5, z: TOP_Z, silent: true,
    style: { text: 'ES 12-14 (2 UniRenko T2R4O2)  10/1/2014', fontSize: 14, fontFamily: FONT, fill: '#000' } },
  { type: 'text', x: 4, y: 33, z: TOP_Z, silent: true,
    style: { text: 'KeltnerChannel(ES 12-14 (2 UniRenko T2R4O2),1.5,10)', fontSize: 12, fontFamily: FONT, fill: '#000' } },
  { type: 'text', x: 4, y: 879, z: TOP_Z, silent: true,
    style: { text: '\u00a9 2014 NinjaTrader, LLC', fontSize: 12, fontFamily: FONT, fill: '#555' } },
  noteBox(122, 192, 44, 16, 'Energy'),
  noteBox(209, 220, 140, 47, 'Now expecting chop\nLevel II/ Adv/DEcl IMP\nTick good.'),
  noteBox(98, 387, 108, 50, 'Playing shouldda\nGame so far this\nmorning.'),
  noteBox(259, 400, 39, 82, '49.5\nPos\nLong\n1 C\nAs iffy', 15),
  noteBox(361, 420, 217, 31, 'Totally frustrating day.\nTomorrow the sun shall rise again.'),
  noteBox(715, 352, 117, 59, "End of day bounce\nI'm out of market\ndue to stop loss\nlimit."),
  { type: 'group', x: 425, y: 547, z: TOP_Z, silent: true, children: [
    { type: 'rect', z: TOP_Z, shape: { x: 0.5, y: 0.5, width: 200, height: 65 },
      style: { fill: '#fff', stroke: '#777', lineWidth: 1, lineDash: [3, 2] } },
    { type: 'text', z: TOP_Z + 1, style: { text: 'ES 12-14 (2 UniRenko T2R4O2)\n# bars:\nTime:\nY value:', x: 4, y: 3,
      fontSize: 12, lineHeight: 16, fontFamily: FONT, fill: '#000' } },
    { type: 'text', z: TOP_Z + 1, style: { text: '\n287\n05:39:34\n-29.00', x: 56, y: 3,
      fontSize: 12, lineHeight: 16, fontFamily: FONT, fill: '#000' } }
  ] },
  // outer frame and separators in the axis column
  { type: 'rect', z: TOP_Z, silent: true, shape: { x: 0.5, y: 28.5, width: 1137, height: 918.5 },
    style: { fill: 'none', stroke: '#000', lineWidth: 1 } },
  { type: 'line', z: TOP_Z, silent: true, shape: { x1: 1067, y1: 695.5, x2: 1138, y2: 695.5 }, style: { stroke: '#000' } },
  { type: 'line', z: TOP_Z, silent: true, shape: { x1: 1067, y1: 788.5, x2: 1138, y2: 788.5 }, style: { stroke: '#000' } },
  { type: 'line', z: TOP_Z, silent: true, shape: { x1: 1067, y1: 863.5, x2: 1138, y2: 863.5 }, style: { stroke: '#000' } }
];

const chart = echarts.init(document.getElementById('chart'), null, { renderer: 'canvas' });
chart.setOption({
  animation: false,
  backgroundColor: '#fff',
  textStyle: { fontFamily: FONT },
  grid: grids,
  xAxis: xAxes,
  yAxis: yAxes,
  series,
  graphic
});
window.addEventListener('resize', () => chart.resize());
</script>
</body>
</html>
